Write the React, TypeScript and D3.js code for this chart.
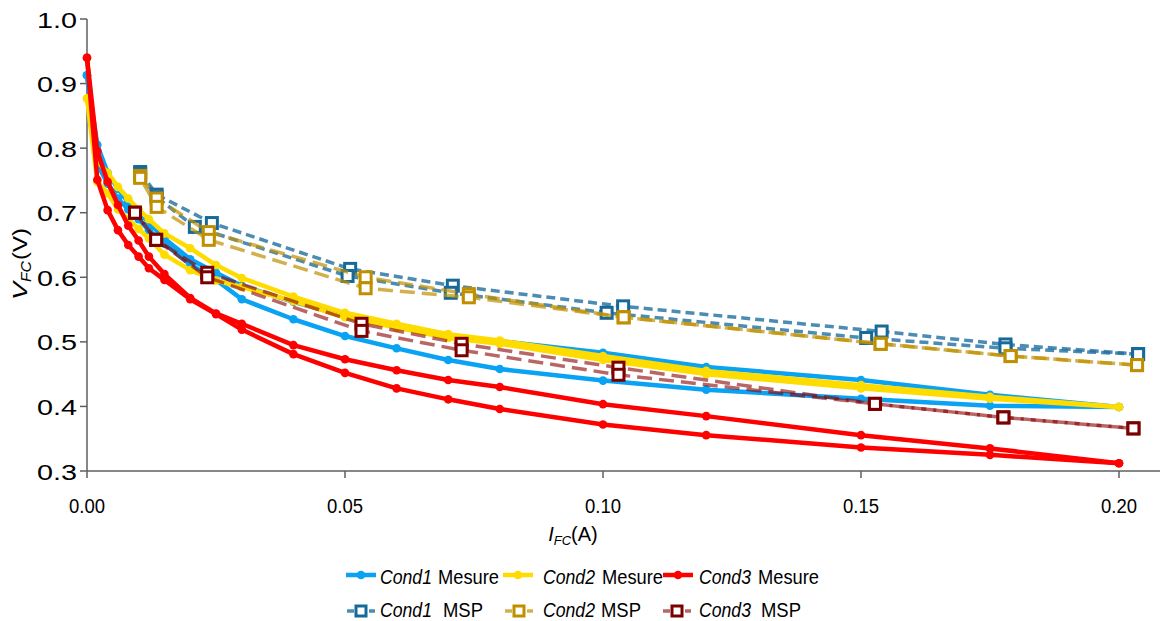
import React from "react";
import * as d3 from "d3";

// ---------- DATA ----------
const mesX = [0, 0.002, 0.004, 0.006, 0.008, 0.01, 0.012, 0.015, 0.02, 0.025, 0.03, 0.04, 0.05, 0.06, 0.07, 0.08, 0.1, 0.12, 0.15, 0.175, 0.2];

const cond1MesUp = [0.913, 0.805, 0.762, 0.737, 0.716, 0.7, 0.685, 0.66, 0.628, 0.607, 0.587, 0.562, 0.54, 0.525, 0.509, 0.501, 0.483, 0.461, 0.441, 0.418, 0.399];
const cond1MesDown = [0.913, 0.775, 0.745, 0.722, 0.705, 0.69, 0.673, 0.652, 0.62, 0.596, 0.566, 0.535, 0.509, 0.49, 0.472, 0.458, 0.44, 0.426, 0.412, 0.401, 0.399];

const cond2MesUp = [0.877, 0.78, 0.762, 0.74, 0.722, 0.705, 0.69, 0.668, 0.645, 0.619, 0.599, 0.57, 0.545, 0.528, 0.512, 0.502, 0.478, 0.455, 0.433, 0.415, 0.399];
const cond2MesDown = [0.877, 0.748, 0.73, 0.705, 0.69, 0.675, 0.66, 0.635, 0.611, 0.595, 0.585, 0.563, 0.538, 0.522, 0.506, 0.497, 0.472, 0.45, 0.428, 0.412, 0.399];

const cond3MesUp = [0.94, 0.795, 0.748, 0.712, 0.68, 0.657, 0.632, 0.605, 0.568, 0.544, 0.528, 0.495, 0.473, 0.456, 0.441, 0.43, 0.4035, 0.385, 0.3555, 0.335, 0.312];
const cond3MesDown = [0.94, 0.751, 0.704, 0.673, 0.65, 0.632, 0.614, 0.596, 0.566, 0.543, 0.519, 0.481, 0.452, 0.428, 0.411, 0.396, 0.372, 0.3555, 0.3365, 0.325, 0.312];

const msp1UpX = [0.0103, 0.0135, 0.0242, 0.051, 0.0709, 0.1039, 0.154, 0.178, 0.2037];
const msp1Up = [0.763, 0.728, 0.684, 0.613, 0.587, 0.555, 0.516, 0.496, 0.481];
const msp1DownX = [0.2037, 0.178, 0.151, 0.1007, 0.0705, 0.0505, 0.0209, 0.0135, 0.0103];
const msp1Down = [0.481, 0.49, 0.506, 0.545, 0.576, 0.602, 0.678, 0.724, 0.76];

const msp2UpX = [0.0103, 0.0135, 0.0236, 0.054, 0.074, 0.104, 0.1538, 0.179, 0.2035];
const msp2Up = [0.757, 0.722, 0.67, 0.6, 0.574, 0.538, 0.497, 0.478, 0.464];
const msp2DownX = [0.2035, 0.179, 0.1538, 0.104, 0.074, 0.054, 0.0236, 0.0135, 0.0103];
const msp2Down = [0.464, 0.478, 0.497, 0.538, 0.569, 0.583, 0.658, 0.709, 0.754];

const msp3UpX = [0.0093, 0.0134, 0.0233, 0.0532, 0.0726, 0.103, 0.1527, 0.1776, 0.2028];
const msp3Up = [0.7, 0.658, 0.607, 0.528, 0.497, 0.46, 0.404, 0.383, 0.366];
const msp3DownX = [0.2028, 0.1776, 0.1527, 0.103, 0.0726, 0.0532, 0.0233, 0.0134, 0.0093];
const msp3Down = [0.366, 0.383, 0.404, 0.449, 0.487, 0.517, 0.6, 0.658, 0.7];

const xTicks = [0, 0.05, 0.1, 0.15, 0.2];
const yTicks = [0.3, 0.4, 0.5, 0.6, 0.7, 0.8, 0.9, 1.0];

const seriesNames = ["Cond1", "Cond2", "Cond3"];

// ---------- STYLE ----------
const FONT = "'Liberation Sans', Arial, sans-serif";
const mesColors = ["#0AA2F2", "#FFDC00", "#FF0000"];
const mspLine = ["#1F6FA0", "#BF9000", "#8B0000"];
const mspLineOpacity = [0.8, 0.7, 0.6];
const mspMarker = ["#17699A", "#BF8F00", "#7B0000"];
const mspDash = ["9,5", "15,7", "15,7"];

type P = [number, number];
const zip = (xs: number[], ys: number[]): P[] => xs.map((x, i) => [x, ys[i]]);

export default function App() {
  const W = 1162, H = 621;
  const x = d3.scaleLinear().domain([0, 0.2]).range([87, 1119]);
  const y = d3.scaleLinear().domain([0.3, 1.0]).range([471, 19]);
  const line = d3.line<P>().x((d) => x(d[0])).y((d) => y(d[1]));

  const mes = [
    [zip(mesX, cond1MesUp), zip(mesX, cond1MesDown)],
    [zip(mesX, cond2MesUp), zip(mesX, cond2MesDown)],
    [zip(mesX, cond3MesUp), zip(mesX, cond3MesDown)],
  ];
  const msp = [
    [zip(msp1UpX, msp1Up), zip(msp1DownX, msp1Down)],
    [zip(msp2UpX, msp2Up), zip(msp2DownX, msp2Down)],
    [zip(msp3UpX, msp3Up), zip(msp3DownX, msp3Down)],
  ];

  const axisColor = "#5f5f5f";
  const xAxisEnd = 1160;

  // legend layout: line start, italic name x, label x
  const legRow1 = [
    { lx: 346, nx: 380, tx: 438 },
    { lx: 503, nx: 543, tx: 602 },
    { lx: 663, nx: 699, tx: 758 },
  ];
  const legRow2 = [
    { lx: 347, nx: 380, tx: 443 },
    { lx: 505, nx: 543, tx: 601 },
    { lx: 663, nx: 699, tx: 761 },
  ];
  const LF = 20.5;

  return (
    <svg width={W} height={H} style={{ position: "absolute", left: 0, top: 0, background: "#fff" }} fontFamily={FONT}>
      <rect width={W} height={H} fill="#fff" />
      {/* Axes */}
      <line x1={x(0)} x2={xAxisEnd} y1={y(0.3)} y2={y(0.3)} stroke={axisColor} strokeWidth={1.5} />
      <line x1={x(0)} x2={x(0)} y1={y(0.3)} y2={y(1.0)} stroke={axisColor} strokeWidth={1.5} />
      {yTicks.map((t) => (
        <g key={"y" + t}>
          <line x1={x(0) - 7} x2={x(0)} y1={y(t)} y2={y(t)} stroke={axisColor} strokeWidth={1.5} />
          <text x={77} y={y(t) + 8.5} textAnchor="end" fontSize={22} fill="#000" textLength={40} lengthAdjust="spacingAndGlyphs">{t.toFixed(1)}</text>
        </g>
      ))}
      {xTicks.map((t) => (
        <g key={"x" + t}>
          <line x1={x(t)} x2={x(t)} y1={y(0.3)} y2={y(0.3) + 7} stroke={axisColor} strokeWidth={1.5} />
          <text x={x(t)} y={513} textAnchor="middle" fontSize={19.5} fill="#000" textLength={36} lengthAdjust="spacingAndGlyphs">{t.toFixed(2)}</text>
        </g>
      ))}
      {/* Axis titles */}
      <text x={573} y={541} textAnchor="middle" fontSize={20} fill="#000">
        <tspan fontStyle="italic">I</tspan>
        <tspan fontStyle="italic" fontSize={13} dy={4}>FC</tspan>
        <tspan dy={-4}>(A)</tspan>
      </text>
      <g transform="translate(27,300) rotate(-90)">
        <text x={0} y={0} fontSize={21} fill="#000" fontStyle="italic" textLength={18} lengthAdjust="spacingAndGlyphs">V</text>
        <text x={18} y={4} fontSize={14} fill="#000" fontStyle="italic" textLength={21} lengthAdjust="spacingAndGlyphs">FC</text>
        <text x={40} y={0} fontSize={21} fill="#000" textLength={32} lengthAdjust="spacingAndGlyphs">(V)</text>
      </g>

      {/* Mesure series */}
      {mes.map((curves, si) => (
        <g key={"mes" + si}>
          {curves.map((c, ci) => (
            <path key={ci} d={line(c) || ""} fill="none" stroke={mesColors[si]} strokeWidth={4.5} strokeLinejoin="round" />
          ))}
          {curves.map((c, ci) =>
            c.map((p, pi) => (
              <circle key={ci + "-" + pi} cx={x(p[0])} cy={y(p[1])} r={4.3} fill={mesColors[si]} />
            ))
          )}
        </g>
      ))}

      {/* MSP series */}
      {msp.map((curves, si) => (
        <g key={"msp" + si}>
          {curves.map((c, ci) => (
            <path key={ci} d={line(c) || ""} fill="none" stroke={mspLine[si]} strokeOpacity={mspLineOpacity[si]} strokeWidth={3.5} strokeDasharray={mspDash[si]} />
          ))}
          {curves.map((c, ci) =>
            c.map((p, pi) => (
              <rect key={ci + "-" + pi} x={x(p[0]) - 5.5} y={y(p[1]) - 5.5} width={11} height={11} fill="#fff" stroke={mspMarker[si]} strokeWidth={3} />
            ))
          )}
        </g>
      ))}

      {/* Legend */}
      {seriesNames.map((n, i) => (
        <g key={"l1" + i}>
          <line x1={legRow1[i].lx} x2={legRow1[i].lx + 30} y1={575} y2={575} stroke={mesColors[i]} strokeWidth={4.5} />
          <circle cx={legRow1[i].lx + 15} cy={575} r={4.3} fill={mesColors[i]} />
          <text x={legRow1[i].nx} y={584} fontSize={LF} fill="#000" fontStyle="italic" textLength={52} lengthAdjust="spacingAndGlyphs">{n}</text>
          <text x={legRow1[i].tx} y={584} fontSize={LF} fill="#000" textLength={61} lengthAdjust="spacingAndGlyphs">Mesure</text>
        </g>
      ))}
      {seriesNames.map((n, i) => (
        <g key={"l2" + i}>
          <line x1={legRow2[i].lx} x2={legRow2[i].lx + 28} y1={611} y2={611} stroke={mspLine[i]} strokeOpacity={mspLineOpacity[i]} strokeWidth={3.5} strokeDasharray="7,4" />
          <rect x={legRow2[i].lx + 14 - 5} y={611 - 5} width={10} height={10} fill="#fff" stroke={mspMarker[i]} strokeWidth={3} />
          <text x={legRow2[i].nx} y={617} fontSize={LF} fill="#000" fontStyle="italic" textLength={52} lengthAdjust="spacingAndGlyphs">{n}</text>
          <text x={legRow2[i].tx} y={617} fontSize={LF} fill="#000" textLength={40} lengthAdjust="spacingAndGlyphs">MSP</text>
        </g>
      ))}
    </svg>
  );
}
